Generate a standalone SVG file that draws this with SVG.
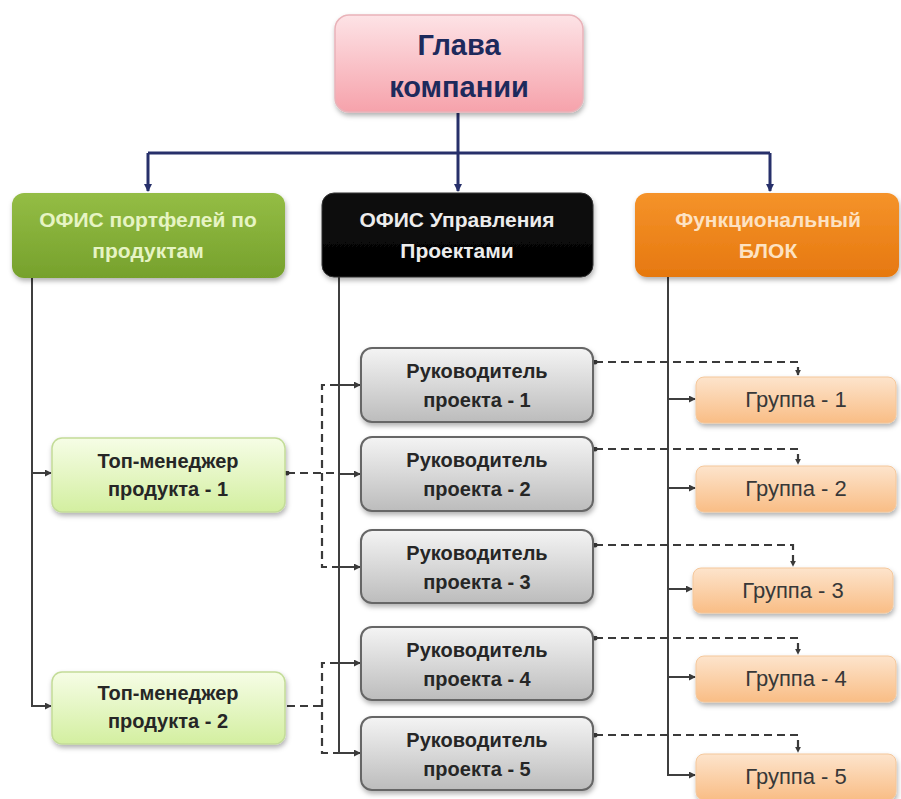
<svg xmlns="http://www.w3.org/2000/svg" width="901" height="799" viewBox="0 0 901 799">
  <defs>
    <linearGradient id="gPink" x1="0" y1="0" x2="0" y2="1">
      <stop offset="0" stop-color="#fde3e6"/>
      <stop offset="1" stop-color="#f6a2ab"/>
    </linearGradient>
    <linearGradient id="gGreen" x1="0" y1="0" x2="0" y2="1">
      <stop offset="0" stop-color="#94bd45"/>
      <stop offset="1" stop-color="#76a12c"/>
    </linearGradient>
    <linearGradient id="gBlack" x1="0" y1="0" x2="0" y2="1">
      <stop offset="0" stop-color="#111"/>
      <stop offset="1" stop-color="#000"/>
    </linearGradient>
    <linearGradient id="gOrange" x1="0" y1="0" x2="0" y2="1">
      <stop offset="0" stop-color="#f5932a"/>
      <stop offset="1" stop-color="#e6780f"/>
    </linearGradient>
    <linearGradient id="gLime" x1="0" y1="0" x2="0" y2="1">
      <stop offset="0" stop-color="#f6fde6"/>
      <stop offset="1" stop-color="#d3efa0"/>
    </linearGradient>
    <linearGradient id="gGray" x1="0" y1="0" x2="0" y2="1">
      <stop offset="0" stop-color="#f4f4f4"/>
      <stop offset="1" stop-color="#bcbcbc"/>
    </linearGradient>
    <linearGradient id="gPeach" x1="0" y1="0" x2="0" y2="1">
      <stop offset="0" stop-color="#fde4cc"/>
      <stop offset="1" stop-color="#f9bd85"/>
    </linearGradient>
    <filter id="shadow" x="-10%" y="-15%" width="125%" height="140%">
      <feDropShadow dx="1" dy="3" stdDeviation="2.5" flood-color="#000" flood-opacity="0.3"/>
    </filter>
    <marker id="arrNavy" viewBox="0 0 8 8" refX="7" refY="4" markerWidth="8" markerHeight="8" markerUnits="userSpaceOnUse" orient="auto">
      <path d="M0,0 L8,4 L0,8 z" fill="#27306a"/>
    </marker>
    <marker id="arr" viewBox="0 0 8 8" refX="7" refY="4" markerWidth="7" markerHeight="7" markerUnits="userSpaceOnUse" orient="auto">
      <path d="M0,0 L8,4 L0,8 z" fill="#3a3a3a"/>
    </marker>
    <marker id="tip" viewBox="0 0 8 8" refX="7" refY="4" markerWidth="6" markerHeight="6" markerUnits="userSpaceOnUse" orient="auto">
      <path d="M0,0 L8,4 L0,8 z" fill="#3a3a3a"/>
    </marker>
    <marker id="dot" viewBox="0 0 6 6" refX="3" refY="3" markerWidth="5" markerHeight="5" markerUnits="userSpaceOnUse">
      <circle cx="3" cy="3" r="3" fill="#3a3a3a"/>
    </marker>
  </defs>
  <style>
    text { text-anchor: middle; font-family: "Liberation Sans", Arial, sans-serif; }
    .head { font-size: 29px; font-weight: bold; fill: #1d2a5c; }
    .office { font-size: 21px; font-weight: bold; }
    .lead { font-size: 20px; font-weight: bold; fill: #262626; }
    .grp { font-size: 22px; fill: #383838; }
    .solid { fill: none; stroke: #3f3f3f; stroke-width: 2; }
    .navy { fill: none; stroke: #27306a; stroke-width: 3; }
    .dash { fill: none; stroke: #3a3a3a; stroke-width: 2.2; stroke-dasharray: 8 5; }
    .rk { fill: url(#gGray); stroke: #666; stroke-width: 2; filter: url(#shadow); }
    .tm { fill: url(#gLime); stroke: #c3dc98; stroke-width: 1.5; filter: url(#shadow); }
    .gr { fill: url(#gPeach); stroke: #f4c79b; stroke-width: 1; filter: url(#shadow); }
  </style>

  <rect width="901" height="799" fill="#ffffff"/>

  <!-- connectors -->
  <g id="connectors">
    <!-- head to the three offices -->
    <path class="navy" d="M458,113 V153"/>
    <path class="navy" d="M148,153 H770"/>
    <path class="navy" d="M148,153 V191" marker-end="url(#arrNavy)"/>
    <path class="navy" d="M458,153 V191" marker-end="url(#arrNavy)"/>
    <path class="navy" d="M770,153 V191" marker-end="url(#arrNavy)"/>

    <!-- portfolio office branch -->
    <path class="solid" d="M32,278 V706 H51" marker-end="url(#arr)"/>
    <path class="solid" d="M32,473 H51" marker-end="url(#arr)"/>

    <!-- project office branch -->
    <path class="solid" d="M339,277 V753 H360" marker-end="url(#arr)"/>
    <path class="solid" d="M339,385 H360" marker-end="url(#arr)"/>
    <path class="solid" d="M339,474 H360" marker-end="url(#arr)"/>
    <path class="solid" d="M339,567 H360" marker-end="url(#arr)"/>
    <path class="solid" d="M339,663 H360" marker-end="url(#arr)"/>

    <!-- functional block branch -->
    <path class="solid" d="M668,277 V775 H695" marker-end="url(#arr)"/>
    <path class="solid" d="M668,399 H695" marker-end="url(#arr)"/>
    <path class="solid" d="M668,488 H695" marker-end="url(#arr)"/>
    <path class="solid" d="M668,589 H692" marker-end="url(#arr)"/>
    <path class="solid" d="M668,677 H695" marker-end="url(#arr)"/>

    <!-- product managers to project leads (dashed) -->
    <path class="dash" d="M287,473 H339" marker-start="url(#dot)"/>
    <path class="dash" d="M338,385 H322 V567 H338"/>
    <path class="dash" d="M287,706 H322"/>
    <path class="dash" d="M338,663 H322 V753 H338"/>

    <!-- project leads to groups (dashed) -->
    <path class="dash" d="M595,362 H798 V375" marker-start="url(#dot)" marker-end="url(#tip)"/>
    <path class="dash" d="M595,449 H798 V464" marker-start="url(#dot)" marker-end="url(#tip)"/>
    <path class="dash" d="M595,545 H793 V566" marker-start="url(#dot)" marker-end="url(#tip)"/>
    <path class="dash" d="M595,638 H798 V654" marker-start="url(#dot)" marker-end="url(#tip)"/>
    <path class="dash" d="M595,735 H798 V752" marker-start="url(#dot)" marker-end="url(#tip)"/>
  </g>

  <!-- head of company -->
  <g id="head">
    <rect x="335" y="15" width="248" height="97" rx="14" fill="url(#gPink)" stroke="#e9b3b9" stroke-width="1.5" filter="url(#shadow)"/>
    <text class="head" x="459" y="55">Глава</text>
    <text class="head" x="459" y="97">компании</text>
  </g>

  <!-- offices -->
  <g id="office-portfolio">
    <rect x="12" y="193" width="273" height="85" rx="12" fill="url(#gGreen)" filter="url(#shadow)"/>
    <text class="office" x="148" y="227" fill="#e6f4c4">ОФИС портфелей по</text>
    <text class="office" x="148" y="258" fill="#e6f4c4">продуктам</text>
  </g>
  <g id="office-projects">
    <rect x="322" y="193" width="271" height="84" rx="12" fill="url(#gBlack)" stroke="#333" stroke-width="1" filter="url(#shadow)"/>
    <text class="office" x="457" y="227" fill="#ececec">ОФИС Управления</text>
    <text class="office" x="457" y="258" fill="#ececec">Проектами</text>
  </g>
  <g id="functional-block">
    <rect x="635" y="193" width="264" height="84" rx="12" fill="url(#gOrange)" filter="url(#shadow)"/>
    <text class="office" x="768" y="227" fill="#fde2c2">Функциональный</text>
    <text class="office" x="768" y="258" fill="#fde2c2">БЛОК</text>
  </g>

  <!-- product managers -->
  <g id="product-manager-1">
    <rect class="tm" x="52" y="438" width="233" height="74" rx="10"/>
    <text class="lead" x="168" y="468">Топ-менеджер</text>
    <text class="lead" x="168" y="496">продукта - 1</text>
  </g>
  <g id="product-manager-2">
    <rect class="tm" x="52" y="672" width="233" height="72" rx="10"/>
    <text class="lead" x="168" y="700">Топ-менеджер</text>
    <text class="lead" x="168" y="728">продукта - 2</text>
  </g>

  <!-- project leads -->
  <g id="project-lead-1">
    <rect class="rk" x="361" y="348" width="232" height="74" rx="11"/>
    <text class="lead" x="477" y="378">Руководитель</text>
    <text class="lead" x="477" y="407">проекта - 1</text>
  </g>
  <g id="project-lead-2">
    <rect class="rk" x="361" y="437" width="232" height="74" rx="11"/>
    <text class="lead" x="477" y="467">Руководитель</text>
    <text class="lead" x="477" y="496">проекта - 2</text>
  </g>
  <g id="project-lead-3">
    <rect class="rk" x="361" y="530" width="232" height="73" rx="11"/>
    <text class="lead" x="477" y="560">Руководитель</text>
    <text class="lead" x="477" y="589">проекта - 3</text>
  </g>
  <g id="project-lead-4">
    <rect class="rk" x="361" y="627" width="232" height="73" rx="11"/>
    <text class="lead" x="477" y="657">Руководитель</text>
    <text class="lead" x="477" y="686">проекта - 4</text>
  </g>
  <g id="project-lead-5">
    <rect class="rk" x="361" y="717" width="232" height="73" rx="11"/>
    <text class="lead" x="477" y="747">Руководитель</text>
    <text class="lead" x="477" y="776">проекта - 5</text>
  </g>

  <!-- groups -->
  <g id="group-1">
    <rect class="gr" x="696" y="377" width="200" height="46" rx="8"/>
    <text class="grp" x="796" y="407">Группа - 1</text>
  </g>
  <g id="group-2">
    <rect class="gr" x="696" y="466" width="200" height="46" rx="8"/>
    <text class="grp" x="796" y="496">Группа - 2</text>
  </g>
  <g id="group-3">
    <rect class="gr" x="693" y="568" width="200" height="45" rx="8"/>
    <text class="grp" x="793" y="598">Группа - 3</text>
  </g>
  <g id="group-4">
    <rect class="gr" x="696" y="656" width="200" height="46" rx="8"/>
    <text class="grp" x="796" y="686">Группа - 4</text>
  </g>
  <g id="group-5">
    <rect class="gr" x="696" y="754" width="200" height="46" rx="8"/>
    <text class="grp" x="796" y="784">Группа - 5</text>
  </g>
</svg>
